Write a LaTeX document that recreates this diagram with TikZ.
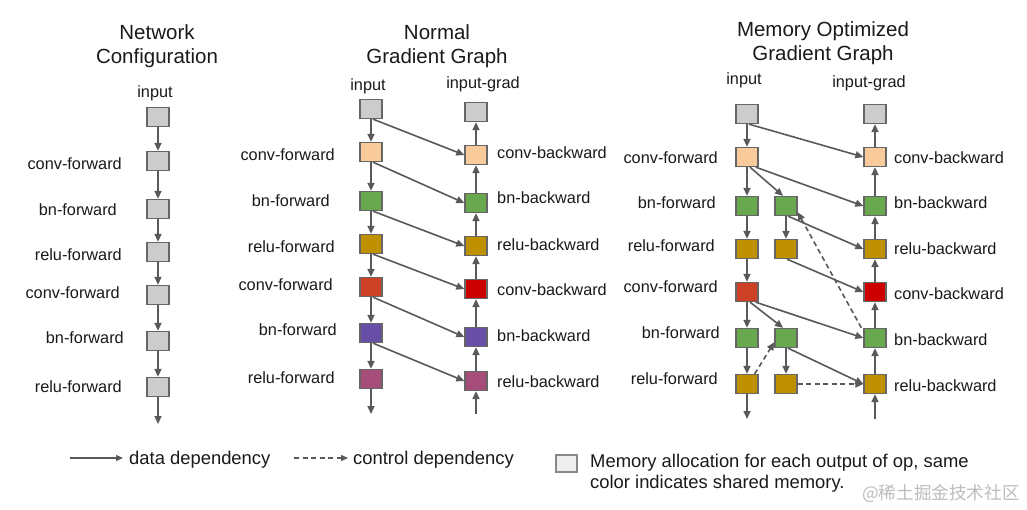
\documentclass[tikz,border=0pt]{standalone}
\usepackage{fontspec}
\setmainfont{Liberation Sans}
\newfontfamily\cjkfont{Noto Sans CJK SC}
\usetikzlibrary{arrows.meta,calc}
\definecolor{cgray}{HTML}{CCCCCC}
\definecolor{cpeach}{HTML}{F9CB9C}
\definecolor{cgreen}{HTML}{6AA84F}
\definecolor{cyel}{HTML}{BF9000}
\definecolor{cberry}{HTML}{CC4125}
\definecolor{cred}{HTML}{CC0000}
\definecolor{cpurp}{HTML}{674EA7}
\definecolor{cmag}{HTML}{A64D79}
\definecolor{boxline}{HTML}{666666}
\definecolor{arr}{HTML}{595959}
\definecolor{txt}{HTML}{1A1A1A}
\definecolor{legfill}{HTML}{EEEEEE}
\definecolor{leggray}{HTML}{888888}
\definecolor{wm}{HTML}{BDBDBD}
\begin{document}
\begin{tikzpicture}[x=1pt,y=-1pt,
  box/.style={draw=boxline,line width=1.3pt,minimum width=22pt,minimum height=19pt,inner sep=0pt},
  lbl/.style={inner sep=0pt,font=\fontsize{16.3}{19}\selectfont,text=txt},
  ttl/.style={inner sep=0pt,font=\fontsize{20.5}{24}\selectfont,text=txt,anchor=base},
  leg/.style={inner sep=0pt,font=\fontsize{18.4}{22}\selectfont,text=txt},
  dep/.style={draw=arr,line width=1.6pt,-{Triangle[length=8pt,width=7pt]}},
  ctl/.style={dep,dash pattern=on 5pt off 3.5pt},
]
\useasboundingbox[fill=white] (0,0) rectangle (1027,509);

% ---------- titles ----------
\node[ttl] (t1a) at (157,39) {Network};
\node[ttl] (t1b) at (157,63) {Configuration};
\node[ttl] (t2a) at (437,39) {Normal};
\node[ttl] (t2b) at (437,63) {Gradient Graph};
\node[ttl] (t3a) at (823,36) {Memory Optimized};
\node[ttl] (t3b) at (823,60) {Gradient Graph};

% ---------- left: network configuration ----------
\foreach \n/\y in {0/117,1/161,2/209,3/252,4/295,5/341,6/387}
  \node[box,fill=cgray] (L\n) at (158,\y) {};
\coordinate (Lend) at (158,424);
\node[lbl,anchor=base] (li) at (155,97) {input};
\node[lbl,anchor=base east] (l1) at (122,169) {conv-forward};
\node[lbl,anchor=base east] (l2) at (117,215) {bn-forward};
\node[lbl,anchor=base east] (l3) at (122,260) {relu-forward};
\node[lbl,anchor=base east] (l4) at (120,298) {conv-forward};
\node[lbl,anchor=base east] (l5) at (124,343) {bn-forward};
\node[lbl,anchor=base east] (l6) at (122,392) {relu-forward};
\foreach \a/\b in {L0/L1,L1/L2,L2/L3,L3/L4,L4/L5,L5/L6,L6/Lend}
  \draw[dep] (\a) -- (\b);

% ---------- middle: normal gradient graph ----------
\node[box,fill=cgray]  (M0) at (371,109) {};
\node[box,fill=cpeach] (M1) at (371,152) {};
\node[box,fill=cgreen] (M2) at (371,201) {};
\node[box,fill=cyel]   (M3) at (371,244) {};
\node[box,fill=cberry] (M4) at (371,287) {};
\node[box,fill=cpurp]  (M5) at (371,333) {};
\node[box,fill=cmag]   (M6) at (371,379) {};
\node[box,fill=cgray]  (N0) at (476,112) {};
\node[box,fill=cpeach] (N1) at (476,155) {};
\node[box,fill=cgreen] (N2) at (476,203) {};
\node[box,fill=cyel]   (N3) at (476,246) {};
\node[box,fill=cred]   (N4) at (476,289) {};
\node[box,fill=cpurp]  (N5) at (476,337) {};
\node[box,fill=cmag]   (N6) at (476,381) {};
\coordinate (Mend) at (371,414);
\coordinate (Nbeg) at (476,414);
\node[lbl,anchor=base] (mi) at (368,90) {input};
\node[lbl,anchor=base] (ni) at (483,88) {input-grad};
\node[lbl,anchor=base east] (m1) at (335,160) {conv-forward};
\node[lbl,anchor=base east] (m2) at (330,206) {bn-forward};
\node[lbl,anchor=base east] (m3) at (335,252) {relu-forward};
\node[lbl,anchor=base east] (m4) at (333,290) {conv-forward};
\node[lbl,anchor=base east] (m5) at (337,335) {bn-forward};
\node[lbl,anchor=base east] (m6) at (335,383) {relu-forward};
\node[lbl,anchor=base west] (n1) at (497,158) {conv-backward};
\node[lbl,anchor=base west] (n2) at (497,203) {bn-backward};
\node[lbl,anchor=base west] (n3) at (497,250) {relu-backward};
\node[lbl,anchor=base west] (n4) at (497,295) {conv-backward};
\node[lbl,anchor=base west] (n5) at (497,341) {bn-backward};
\node[lbl,anchor=base west] (n6) at (497,387) {relu-backward};
\foreach \a/\b in {M0/M1,M1/M2,M2/M3,M3/M4,M4/M5,M5/M6,M6/Mend,
                   Nbeg/N6,N6/N5,N5/N4,N4/N3,N3/N2,N2/N1,N1/N0}
  \draw[dep] (\a) -- (\b);
\foreach \a/\b in {M0/N1,M1/N2,M2/N3,M3/N4,M4/N5,M5/N6}
  \draw[dep] ([xshift=2pt]\a.south) -- (\b.west);

% ---------- right: memory optimized gradient graph ----------
\node[box,fill=cgray]  (R0) at (747,114) {};
\node[box,fill=cpeach] (R1) at (747,157) {};
\node[box,fill=cgreen] (R2) at (747,206) {};
\node[box,fill=cyel]   (R3) at (747,249) {};
\node[box,fill=cberry] (R4) at (747,292) {};
\node[box,fill=cgreen] (R5) at (747,338) {};
\node[box,fill=cyel]   (R6) at (747,384) {};
\node[box,fill=cgreen] (S1) at (786,206) {};
\node[box,fill=cyel]   (S2) at (786,249) {};
\node[box,fill=cgreen] (S4) at (786,338) {};
\node[box,fill=cyel]   (S5) at (786,384) {};
\node[box,fill=cgray]  (B0) at (875,114) {};
\node[box,fill=cpeach] (B1) at (875,157) {};
\node[box,fill=cgreen] (B2) at (875,206) {};
\node[box,fill=cyel]   (B3) at (875,249) {};
\node[box,fill=cred]   (B4) at (875,292) {};
\node[box,fill=cgreen] (B5) at (875,338) {};
\node[box,fill=cyel]   (B6) at (875,384) {};
\coordinate (Rend) at (747,419);
\coordinate (Bbeg) at (875,419);
\node[lbl,anchor=base] (ri) at (744,84) {input};
\node[lbl,anchor=base] (bi) at (869,87) {input-grad};
\node[lbl,anchor=base east] (r1) at (718,163) {conv-forward};
\node[lbl,anchor=base east] (r2) at (716,208) {bn-forward};
\node[lbl,anchor=base east] (r3) at (715,251) {relu-forward};
\node[lbl,anchor=base east] (r4) at (718,292) {conv-forward};
\node[lbl,anchor=base east] (r5) at (720,338) {bn-forward};
\node[lbl,anchor=base east] (r6) at (718,384) {relu-forward};
\node[lbl,anchor=base west] (b1) at (894,163) {conv-backward};
\node[lbl,anchor=base west] (b2) at (894,208) {bn-backward};
\node[lbl,anchor=base west] (b3) at (894,254) {relu-backward};
\node[lbl,anchor=base west] (b4) at (894,299) {conv-backward};
\node[lbl,anchor=base west] (b5) at (894,345) {bn-backward};
\node[lbl,anchor=base west] (b6) at (894,391) {relu-backward};
\foreach \a/\b in {R0/R1,R1/R2,R2/R3,R3/R4,R4/R5,R5/R6,R6/Rend,S1/S2,S4/S5,
                   Bbeg/B6,B6/B5,B5/B4,B4/B3,B3/B2,B2/B1,B1/B0}
  \draw[dep] (\a) -- (\b);
\draw[dep] ([xshift=2pt]R0.south) -- (B1.west);
\draw[dep] ([xshift=-3pt]R1.south east) -- (B2.west);
\draw[dep] ([xshift=3pt]R1.south) -- ([xshift=-3pt]S1.north);
\draw[dep] ([xshift=2pt]S1.south) -- (B3.west);
\draw[dep] ([xshift=1pt]S2.south) -- (B4.west);
\draw[dep] ([xshift=-3pt]R4.south east) -- (B5.west);
\draw[dep] ([xshift=3pt]R4.south) -- ([xshift=-3pt]S4.north);
\draw[dep] ([xshift=2pt]S4.south) -- (B6.west);
\draw[ctl] ([xshift=-2pt]B5.north west) -- ([yshift=4pt]S1.south east);
\draw[ctl] ([xshift=-4pt]R6.north east) -- ([yshift=6pt]S4.south west);
\draw[ctl] (S5.east) -- (B6.west);

% ---------- legend ----------
\coordinate (da) at (70,458);
\coordinate (db) at (123,458);
\coordinate (ca) at (294,458);
\coordinate (cb) at (348,458);
\draw[dep,line width=1.3pt,-{Triangle[length=7pt,width=6pt]}] (da) -- (db);
\draw[ctl,line width=1.3pt,-{Triangle[length=7pt,width=6pt]}] (ca) -- (cb);
\node[leg,anchor=base west] (tdata) at (129,464) {data dependency};
\node[leg,anchor=base west] (tctl) at (353,464) {control dependency};
\node[box,fill=legfill,draw=leggray,minimum width=21pt,minimum height=17pt] (legbox) at (566.5,463.5) {};
\node[leg,anchor=base west] (tmem1) at (590,467.5) {Memory allocation for each output of op, same};
\node[leg,anchor=base west] (tmem2) at (590,488.5) {color indicates shared memory.};
\node[anchor=base west,inner sep=0pt,font=\cjkfont\fontsize{17.6}{20}\selectfont,text=wm] (wmark) at (862,499) {@稀土掘金技术社区};
\end{tikzpicture}
\end{document}
